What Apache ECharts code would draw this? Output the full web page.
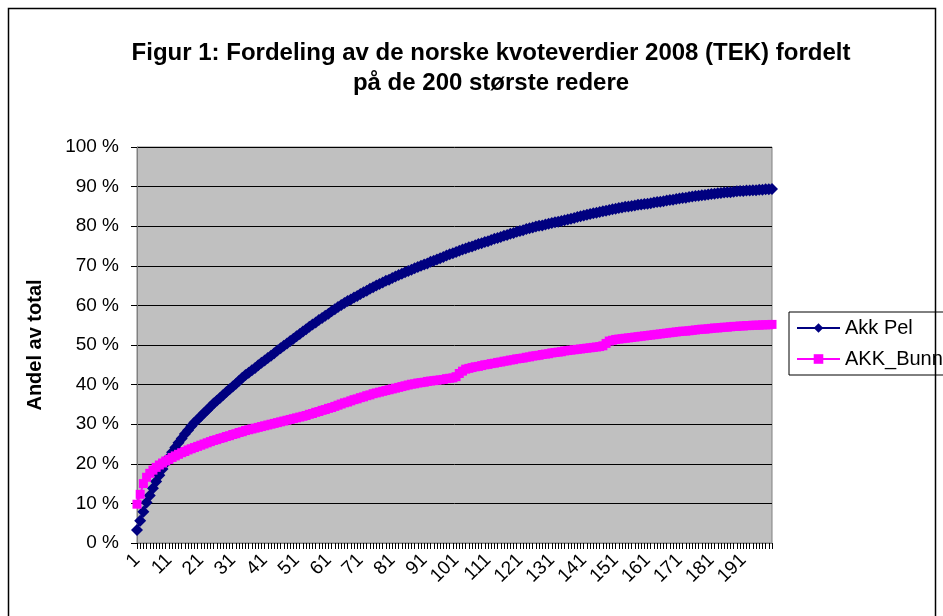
<!DOCTYPE html>
<html>
<head>
<meta charset="utf-8">
<script src="https://cdn.jsdelivr.net/npm/echarts@6/dist/echarts.min.js"></script>
<style>
  html, body { margin: 0; padding: 0; background: #fff; }
  #main { width: 943px; height: 616px; }
</style>
</head>
<body>
<div id="main"></div>
<script>
// rederne 1..200 langs x-aksen
const ranks = Array.from({ length: 200 }, (_, i) => String(i + 1));
const yTicks = [0, 10, 20, 30, 40, 50, 60, 70, 80, 90, 100];

// akkumulert andel (%) lest av figuren
const akkPel = [
  3.3, 5.6, 7.9, 10.2, 12.0, 13.8, 15.5, 17.1, 18.7, 20.2,
  21.6, 22.9, 24.1, 25.3, 26.4, 27.5, 28.5, 29.5, 30.4, 31.2,
  32.0, 32.8, 33.6, 34.4, 35.2, 35.9, 36.6, 37.4, 38.1, 38.8,
  39.5, 40.2, 41.0, 41.7, 42.4, 43.0, 43.6, 44.2, 44.9, 45.5,
  46.1, 46.7, 47.3, 47.9, 48.6, 49.2, 49.8, 50.4, 51.0, 51.6,
  52.2, 52.8, 53.4, 54.0, 54.6, 55.2, 55.7, 56.3, 56.8, 57.4,
  57.9, 58.5, 59.0, 59.6, 60.1, 60.6, 61.1, 61.5, 62.0, 62.4,
  62.9, 63.3, 63.7, 64.2, 64.6, 65.0, 65.4, 65.8, 66.2, 66.5,
  66.9, 67.3, 67.7, 68.0, 68.4, 68.7, 69.0, 69.4, 69.7, 70.0,
  70.3, 70.6, 71.0, 71.3, 71.6, 71.9, 72.2, 72.6, 72.9, 73.2,
  73.5, 73.8, 74.1, 74.4, 74.7, 74.9, 75.2, 75.5, 75.7, 76.0,
  76.2, 76.5, 76.8, 77.0, 77.3, 77.6, 77.8, 78.1, 78.3, 78.6,
  78.8, 79.0, 79.3, 79.5, 79.7, 79.9, 80.1, 80.2, 80.4, 80.6,
  80.8, 81.0, 81.1, 81.3, 81.5, 81.7, 81.9, 82.1, 82.3, 82.5,
  82.7, 82.9, 83.1, 83.3, 83.4, 83.6, 83.8, 83.9, 84.1, 84.3,
  84.4, 84.6, 84.7, 84.9, 85.0, 85.1, 85.2, 85.4, 85.5, 85.6,
  85.7, 85.8, 86.0, 86.1, 86.2, 86.3, 86.5, 86.6, 86.7, 86.9,
  87.0, 87.1, 87.2, 87.4, 87.5, 87.6, 87.7, 87.8, 87.9, 88.0,
  88.1, 88.2, 88.3, 88.4, 88.5, 88.6, 88.6, 88.7, 88.8, 88.9,
  88.9, 89.0, 89.0, 89.1, 89.1, 89.2, 89.2, 89.3, 89.3, 89.4
];

const akkBunn = [
  9.8, 12.3, 15.0, 16.6, 17.6, 18.4, 19.1, 19.7, 20.2, 20.7,
  21.1, 21.6, 22.0, 22.4, 22.8, 23.1, 23.5, 23.8, 24.1, 24.4,
  24.7, 25.0, 25.3, 25.6, 25.9, 26.1, 26.4, 26.6, 26.9, 27.1,
  27.4, 27.6, 27.9, 28.1, 28.4, 28.6, 28.8, 29.0, 29.2, 29.4,
  29.6, 29.8, 30.0, 30.2, 30.4, 30.6, 30.8, 31.0, 31.2, 31.4,
  31.6, 31.8, 32.0, 32.2, 32.5, 32.7, 33.0, 33.2, 33.5, 33.7,
  34.0, 34.2, 34.5, 34.8, 35.1, 35.4, 35.6, 35.9, 36.2, 36.4,
  36.7, 36.9, 37.2, 37.4, 37.7, 37.9, 38.1, 38.3, 38.5, 38.7,
  38.9, 39.1, 39.3, 39.5, 39.7, 39.9, 40.1, 40.2, 40.4, 40.5,
  40.6, 40.8, 40.9, 41.0, 41.1, 41.2, 41.3, 41.5, 41.6, 41.7,
  42.0, 42.8, 43.4, 43.9, 44.1, 44.3, 44.5, 44.6, 44.8, 45.0,
  45.1, 45.3, 45.4, 45.6, 45.7, 45.9, 46.0, 46.2, 46.3, 46.5,
  46.6, 46.7, 46.9, 47.0, 47.2, 47.3, 47.4, 47.6, 47.7, 47.8,
  48.0, 48.1, 48.2, 48.3, 48.5, 48.6, 48.7, 48.8, 48.9, 49.0,
  49.1, 49.2, 49.3, 49.4, 49.5, 49.6, 49.8, 50.4, 51.0, 51.2,
  51.4, 51.5, 51.6, 51.7, 51.8, 51.9, 52.0, 52.1, 52.2, 52.3,
  52.4, 52.5, 52.6, 52.7, 52.8, 52.9, 53.0, 53.1, 53.2, 53.3,
  53.4, 53.5, 53.5, 53.6, 53.7, 53.8, 53.9, 54.0, 54.0, 54.1,
  54.2, 54.3, 54.3, 54.4, 54.5, 54.5, 54.6, 54.7, 54.7, 54.8,
  54.8, 54.9, 54.9, 55.0, 55.0, 55.0, 55.1, 55.1, 55.1, 55.2
];

const FONT = '"Liberation Sans", Arial, sans-serif';

var chartDom = document.getElementById('main');
var myChart = echarts.init(chartDom, null, { renderer: 'canvas' });

var option = {
  animation: false,
  backgroundColor: '#ffffff',
  textStyle: { fontFamily: FONT, color: '#000' },
  graphic: [
    {
      type: 'rect',
      shape: { x: 8.5, y: 8.5, width: 927, height: 640 },
      style: { fill: 'none', stroke: '#000', lineWidth: 1.5 },
      silent: true
    }
  ],
  title: {
    text: 'Figur 1: Fordeling av de norske kvoteverdier 2008 (TEK) fordelt\npå de 200 største redere',
    left: 486,
    top: 33,
    textAlign: 'center',
    textStyle: {
      fontFamily: FONT,
      fontSize: 24,
      fontWeight: 'bold',
      lineHeight: 30,
      color: '#000'
    }
  },
  legend: {
    orient: 'vertical',
    left: 789,
    top: 312,
    padding: [6, 30, 6, 7],
    itemGap: 11,
    itemWidth: 43,
    itemHeight: 12,
    borderColor: '#000',
    borderWidth: 1,
    textStyle: { fontFamily: FONT, fontSize: 20, color: '#000' },
    data: ['Akk Pel', 'AKK_Bunn']
  },
  grid: {
    left: 137,
    right: 171,
    top: 147,
    bottom: 73,
    show: true,
    backgroundColor: '#c0c0c0',
    borderColor: '#808080',
    borderWidth: 1
  },
  xAxis: {
    type: 'category',
    boundaryGap: false,
    data: ranks,
    axisLine: { lineStyle: { color: '#808080', width: 1 } },
    axisTick: { interval: 0, length: 6, lineStyle: { color: '#000' } },
    axisLabel: {
      interval: 9,
      rotate: 45,
      margin: 14,
      fontFamily: FONT,
      fontSize: 19,
      color: '#000'
    },
    splitLine: { show: false }
  },
  yAxis: {
    type: 'value',
    min: yTicks[0],
    max: yTicks[yTicks.length - 1],
    interval: 10,
    name: 'Andel av total',
    nameLocation: 'middle',
    nameGap: 92,
    nameRotate: 90,
    nameTextStyle: { fontFamily: FONT, fontSize: 20, fontWeight: 'bold', color: '#000' },
    axisLine: { show: true, lineStyle: { color: '#808080', width: 1 } },
    axisTick: { show: true, length: 6, lineStyle: { color: '#000' } },
    axisLabel: {
      formatter: '{value} %',
      margin: 18,
      fontFamily: FONT,
      fontSize: 19,
      color: '#000'
    },
    splitLine: { lineStyle: { color: '#000', width: 1 } }
  },
  series: [
    {
      name: 'Akk Pel',
      type: 'line',
      data: akkPel,
      symbol: 'diamond',
      symbolSize: 12,
      showAllSymbol: true,
      itemStyle: { color: '#000080' },
      lineStyle: { color: '#000080', width: 2 }
    },
    {
      name: 'AKK_Bunn',
      type: 'line',
      data: akkBunn,
      symbol: 'rect',
      symbolSize: 9,
      showAllSymbol: true,
      itemStyle: { color: '#ff00ff' },
      lineStyle: { color: '#ff00ff', width: 2 }
    }
  ]
};

option && myChart.setOption(option);
</script>
</body>
</html>
